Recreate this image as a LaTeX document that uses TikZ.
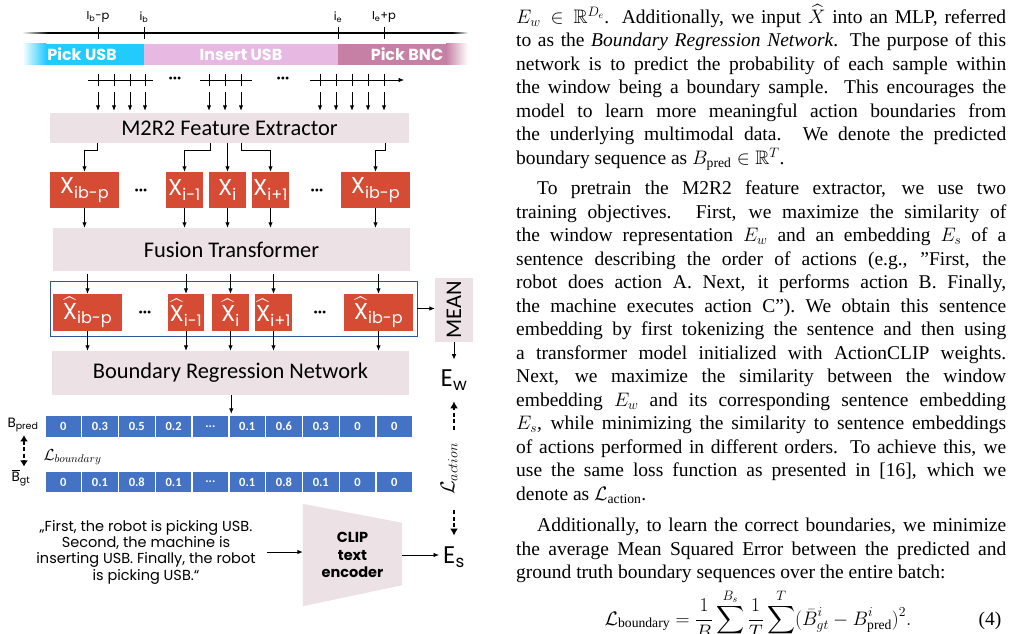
\RequirePackage{fix-cm}
\documentclass[tikz,border=0pt]{standalone}
\usepackage{amsmath,amssymb}
\usepackage{fontspec}
\setmainfont{Liberation Serif}
\newfontfamily\popfont{Poppins}
\newfontfamily\calfont{Carlito}
\usetikzlibrary{arrows.meta,positioning}
\pgfdeclarelayer{background}
\pgfsetlayers{background,main}

\definecolor{pickcyan}{HTML}{21CBFE}
\definecolor{insertpink}{HTML}{E6B8E2}
\definecolor{bncmauve}{HTML}{C680A5}
\definecolor{boxgray}{HTML}{ECE2E6}
\definecolor{featred}{HTML}{D64B34}
\definecolor{cellblue}{HTML}{4472C4}
\definecolor{frameblue}{HTML}{2F5597}

\begin{document}
\begin{tikzpicture}[x=1pt,y=-1pt,>={Latex[length=5.5pt,width=4.6pt]},
  block/.style={fill=boxgray,inner sep=0pt,font=\calfont\fontsize{22.4}{26}\selectfont},
  feat/.style={fill=featred,text=white,inner sep=0pt,minimum height=36pt,font=\popfont\fontsize{23}{26}\selectfont},
  cell/.style={fill=cellblue,text=white,inner sep=0pt,minimum width=35.4pt,minimum height=21pt,font=\calfont\bfseries\fontsize{12.5}{14}\selectfont},
  flow/.style={->,line width=0.9pt},
  dflow/.style={line width=2pt,dash pattern=on 4pt off 2.5pt},
  bigtip/.style={-{Latex[length=7pt,width=8pt]}},
  tick/.style={line width=0.8pt},
  barlabel/.style={text=white,font=\popfont\bfseries\fontsize{16}{18}\selectfont},
  timelabel/.style={font=\popfont\fontsize{11.5}{13}\selectfont},
  emb/.style={font=\popfont\fontsize{24}{28}\selectfont,inner sep=1pt},
  para/.style={text width=490pt,align=justify,inner sep=0pt,font=\fontsize{19.5}{23.5}\selectfont}]
\clip (0,0) rectangle (1014,634);
\begin{pgfonlayer}{background}
\fill[white] (0,0) rectangle (1014,634);
\end{pgfonlayer}

\shade[left color=white,right color=black] (22,32.2) rectangle (48,33.8);
\draw[line width=1.6pt] (48,33) -- (452,33);
\shade[left color=black,right color=white] (452,32.2) rectangle (468,33.8);
\draw[tick] (98,27) -- (98,39);
\draw[tick] (144,27) -- (144,39);
\draw[tick] (338,27) -- (338,39);
\draw[tick] (384,27) -- (384,39);
\node[timelabel] (ibp) at (98,17) {I\textsubscript{b}-p};
\node[timelabel] (ib) at (144,17) {i\textsubscript{b}};
\node[timelabel] (ie) at (338,17) {i\textsubscript{e}};
\node[timelabel] (iep) at (384,17) {I\textsubscript{e}+p};

\shade[left color=white,right color=pickcyan] (22,44) rectangle (46,65);
\fill[pickcyan] (46,44) rectangle (144,65);
\fill[insertpink] (144,44) rectangle (338,65);
\fill[bncmauve] (338,44) rectangle (446,65);
\shade[left color=bncmauve,right color=white] (446,44) rectangle (468,65);
\node[barlabel] (pick) at (82,54.5) {Pick USB};
\node[barlabel] (insert) at (241,54.5) {Insert USB};
\node[barlabel] (bnc) at (407,54.5) {Pick BNC};

\draw[tick] (88,80) -- (153,80);
\draw[tick] (200,80) -- (252,80);
\draw[tick,->] (310,80) -- (404,80);
\foreach \t in {98,114,130,145,209,225,241,320,336,352,368,384}
  \draw[tick] (\t,74) -- (\t,86);
\node[font=\fontsize{12}{14}\selectfont] (dots1) at (175,80) {\textbullet\textbullet\textbullet};
\node[font=\fontsize{12}{14}\selectfont] (dots2) at (283,80) {\textbullet\textbullet\textbullet};

\node[block,minimum width=359pt,minimum height=30pt] (fe) at (229.5,128) {M2R2 Feature Extractor};
\foreach \t in {98,114,130,145,209,225,241,320,336,352,368,384}{
  \coordinate (s\t) at (\t,92);
  \draw[flow,shorten >=2pt] (s\t) -- (s\t |- fe.north);
}

\node[feat,minimum width=69pt] (x1) at (84.5,190) {X\textsubscript{ib-p}};
\node[font=\fontsize{12}{14}\selectfont] (xd1) at (141,192) {\textbullet\textbullet\textbullet};
\node[feat,minimum width=37pt] (x2) at (184.5,190) {X\textsubscript{i-1}};
\node[feat,minimum width=37pt] (x3) at (227.5,190) {X\textsubscript{i}};
\node[feat,minimum width=37pt] (x4) at (270.5,190) {X\textsubscript{i+1}};
\node[font=\fontsize{12}{14}\selectfont] (xd2) at (317,192) {\textbullet\textbullet\textbullet};
\node[feat,minimum width=69pt] (x5) at (375.5,190) {X\textsubscript{ib-p}};

\draw[flow] ([xshift=12.5pt]x1.north |- fe.south) -- ++(0,7) -| (x1.north);
\draw[flow] ([xshift=25.5pt]x2.north |- fe.south) -- ++(0,7) -| (x2.north);
\draw[flow] (x3.north |- fe.south) -- (x3.north);
\draw[flow] ([xshift=-29.5pt]x4.north |- fe.south) -- ++(0,7) -| (x4.north);
\draw[flow] ([xshift=9.5pt]x5.north |- fe.south) -- ++(0,7) -| (x5.north);

\node[block,minimum width=357pt,minimum height=43pt] (ft) at (231.5,249.5) {Fusion Transformer};
\draw[flow] (x1.south) -- (x1.south |- ft.north);
\draw[flow] (x2.south) -- (x2.south |- ft.north);
\draw[flow] (x3.south) -- (x3.south |- ft.north);
\draw[flow] (x4.south) -- (x4.south |- ft.north);
\draw[flow] (x5.south) -- (x5.south |- ft.north);

\node[draw=frameblue,line width=0.8pt,minimum width=367pt,minimum height=55pt,inner sep=0pt] (win) at (233.5,308.5) {};
\node[feat,minimum width=69pt,minimum height=37pt] (h1) at (87.5,312.5) {$\widehat{\mbox{X}}$\textsubscript{ib-p}};
\node[font=\fontsize{12}{14}\selectfont] (hd1) at (145,314) {\textbullet\textbullet\textbullet};
\node[feat,minimum width=36pt,minimum height=37pt] (h2) at (186,312.5) {$\widehat{\mbox{X}}$\textsubscript{i-1}};
\node[feat,minimum width=37pt,minimum height=37pt] (h3) at (230.5,312.5) {$\widehat{\mbox{X}}$\textsubscript{i}};
\node[feat,minimum width=37pt,minimum height=37pt] (h4) at (273.5,312.5) {$\widehat{\mbox{X}}$\textsubscript{i+1}};
\node[font=\fontsize{12}{14}\selectfont] (hd2) at (320,314) {\textbullet\textbullet\textbullet};
\node[feat,minimum width=69pt,minimum height=37pt] (h5) at (378.5,312.5) {$\widehat{\mbox{X}}$\textsubscript{ib-p}};

\draw[flow,shorten <=3pt] (h1.north |- ft.south) -- (h1.north);
\draw[flow,shorten <=3pt] (h2.north |- ft.south) -- (h2.north);
\draw[flow,shorten <=3pt] (h3.north |- ft.south) -- (h3.north);
\draw[flow,shorten <=3pt] (h4.north |- ft.south) -- (h4.north);
\draw[flow,shorten <=3pt] (h5.north |- ft.south) -- (h5.north);

\node[block,minimum width=357pt,minimum height=44pt] (brn) at (230.5,373) {Boundary Regression Network};
\draw[flow] (h1.south) -- (h1.south |- brn.north);
\draw[flow] (h2.south) -- (h2.south |- brn.north);
\draw[flow] (h3.south) -- (h3.south |- brn.north);
\draw[flow] (h4.south) -- (h4.south |- brn.north);
\draw[flow] (h5.south) -- (h5.south |- brn.north);

\node[block,minimum width=38pt,minimum height=64pt] (mean) at (454,310) {\rotatebox{90}{MEAN}};
\draw[flow] (win.east) -- (win.east -| mean.west);
\node[emb] (ew) at (454,380) {E\textsubscript{w}};
\draw[flow,shorten >=9pt] (mean.south) -- (mean.south |- ew.north);
\node[rotate=90,font=\fontsize{20}{24}\selectfont] (lact) at (449,469) {$\mathcal{L}_{action}$};
\node[emb] (es) at (454,557) {E\textsubscript{s}};
\draw[dflow,bigtip,shorten <=10pt,shorten >=10pt] (lact.east -| mean.south) -- (mean.south |- ew.south);
\draw[dflow,bigtip,shorten <=12pt,shorten >=10pt] (lact.west -| mean.south) -- (mean.south |- es.north);

\node[cell] (bp1) at (63.2,426.5) {0};
\node[cell,right=1pt of bp1] (bp2) {0.3};
\node[cell,right=1pt of bp2] (bp3) {0.5};
\node[cell,right=1pt of bp3] (bp4) {0.2};
\node[cell,right=1pt of bp4] (bp5) {...};
\node[cell,right=1pt of bp5] (bp6) {0.1};
\node[cell,right=1pt of bp6] (bp7) {0.6};
\node[cell,right=1pt of bp7] (bp8) {0.3};
\node[cell,right=1pt of bp8] (bp9) {0};
\node[cell,right=1pt of bp9] (bp10) {0};
\draw[flow] ([xshift=2pt]bp6.north west |- brn.south) -- ([xshift=2pt,yshift=2pt]bp6.north west);

\node[cell,minimum height=20pt] (bg1) at (63.2,482) {0};
\node[cell,minimum height=20pt,right=1pt of bg1] (bg2) {0.1};
\node[cell,minimum height=20pt,right=1pt of bg2] (bg3) {0.8};
\node[cell,minimum height=20pt,right=1pt of bg3] (bg4) {0.1};
\node[cell,minimum height=20pt,right=1pt of bg4] (bg5) {...};
\node[cell,minimum height=20pt,right=1pt of bg5] (bg6) {0.1};
\node[cell,minimum height=20pt,right=1pt of bg6] (bg7) {0.8};
\node[cell,minimum height=20pt,right=1pt of bg7] (bg8) {0.1};
\node[cell,minimum height=20pt,right=1pt of bg8] (bg9) {0};
\node[cell,minimum height=20pt,right=1pt of bg9] (bg10) {0};

\node[font=\popfont\fontsize{13.5}{15}\selectfont,inner sep=1pt] (bpl) at (23,425) {B\textsubscript{pred}};
\node[font=\popfont\fontsize{13.5}{15}\selectfont,inner sep=1pt] (bgl) at (21,478) {$\overline{\mbox{B}}$\textsubscript{gt}};
\node[anchor=west,font=\fontsize{16}{18}\selectfont] (lbd) at (40,457) {$\mathcal{L}_{boundary}$};
\draw[dflow,{Latex[length=6pt,width=8pt]}-{Latex[length=6pt,width=8pt]},shorten <=2pt,shorten >=2pt] ([xshift=1pt]bpl.south) -- ([xshift=3pt]bgl.north);

\node[align=center,font=\popfont\fontsize{14.5}{16.3}\selectfont] (quote) at (146,552) {„First, the robot is picking USB.\\Second, the machine is\\inserting USB. Finally, the robot\\is picking USB.“};
\node[align=center,font=\popfont\bfseries\fontsize{14.5}{17.5}\selectfont,minimum width=99pt,minimum height=102pt,inner sep=0pt] (clip) at (352.5,555) {CLIP\\text\\encoder};
\begin{pgfonlayer}{background}
\fill[boxgray] (clip.north west) -- ([yshift=-19pt]clip.north east) -- ([yshift=21pt]clip.south east) -- (clip.south west) -- cycle;
\end{pgfonlayer}
\draw[flow,shorten <=8pt] (quote.east) -- (quote.east -| clip.west);
\draw[flow,shorten >=3pt] (clip.east) -- (clip.east -| es.west);

\node[para,anchor=north west] (txt) at (516,4) {\parindent=0pt
$E_w \in \mathbb{R}^{D_e}$. Additionally, we input $\widehat{X}$ into an MLP, referred\linebreak
to as the \emph{Boundary Regression Network}. The purpose of this\linebreak
network is to predict the probability of each sample within\linebreak
the window being a boundary sample. This encourages the\linebreak
model to learn more meaningful action boundaries from\linebreak
the underlying multimodal data. We denote the predicted\linebreak
boundary sequence as $B_{\text{pred}} \in \mathbb{R}^T$.\par
\vspace{7pt}
\hspace*{21pt}To pretrain the M2R2 feature extractor, we use two\linebreak
training objectives. First, we maximize the similarity of\linebreak
the window representation $E_w$ and an embedding $E_s$ of a\linebreak
sentence describing the order of actions (e.g., ”First, the\linebreak
robot does action A. Next, it performs action B. Finally,\linebreak
the machine executes action C”). We obtain this sentence\linebreak
embedding by first tokenizing the sentence and then using\linebreak
a transformer model initialized with ActionCLIP weights.\linebreak
Next, we maximize the similarity between the window\linebreak
embedding $E_w$ and its corresponding sentence embedding\linebreak
$E_s$, while minimizing the similarity to sentence embeddings\linebreak
of actions performed in different orders. To achieve this, we\linebreak
use the same loss function as presented in [16], which we\linebreak
denote as $\mathcal{L}_{\text{action}}$.\par
\vspace{8pt}
\hspace*{21pt}Additionally, to learn the correct boundaries, we minimize\linebreak
the average Mean Squared Error between the predicted and\linebreak
ground truth boundary sequences over the entire batch:\par};

\node[anchor=base,font=\fontsize{19.5}{23.5}\selectfont] (eq) at (758,625) {$\displaystyle\mathcal{L}_{\text{boundary}} = \frac{1}{B}\sum^{B_s}\frac{1}{T}\sum^{T}(\bar{B}^i_{gt}-B^i_{\text{pred}})^2.$};
\node[anchor=base east,font=\fontsize{19.5}{23.5}\selectfont] (eqnum) at (1005,625) {(4)};
\end{tikzpicture}
\end{document}
